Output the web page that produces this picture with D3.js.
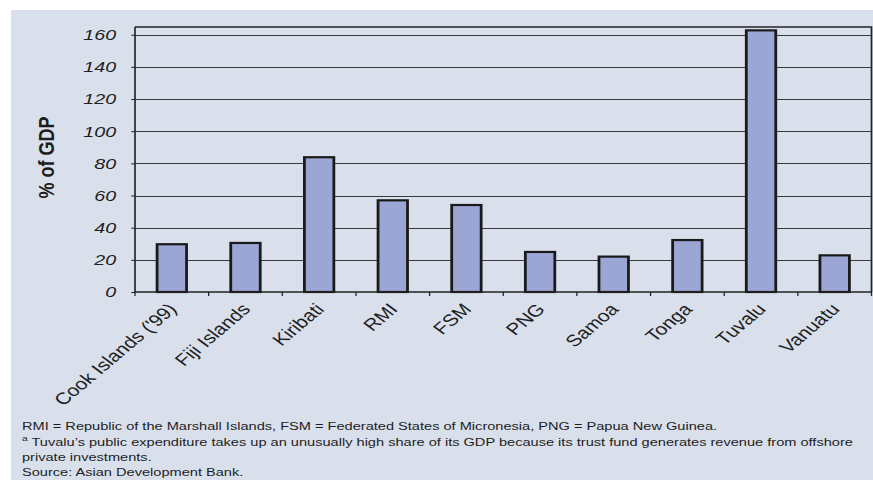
<!DOCTYPE html>
<html><head><meta charset="utf-8">
<script src="https://cdn.jsdelivr.net/npm/d3@7"></script>
<style>body{margin:0;background:#fff;} svg{display:block;}</style>
</head><body>
<script>
const categories = ["Cook Islands ('99)", "Fiji Islands", "Kiribati", "RMI", "FSM", "PNG", "Samoa", "Tonga", "Tuvalu", "Vanuatu"];
const values = [29.7, 30.5, 83.8, 57.0, 54.1, 24.9, 22.0, 32.3, 162.7, 22.8];
const yTicks = [0, 20, 40, 60, 80, 100, 120, 140, 160];
const yTitle = "% of GDP";
const notes = [
  [{t:"RMI = Republic of the Marshall Islands, FSM = Federated States of Micronesia, PNG = Papua New Guinea."}],
  [{t:"a", sup:true}, {t:" Tuvalu\u2019s public expenditure takes up an unusually high share of its GDP because its trust fund generates revenue from offshore"}],
  [{t:"private investments."}],
  [{t:"Source: Asian Development Bank."}]
];

(function () {
const SX = 1.27;            // horizontal stretch of the picture
const W = 873, H = 480;
const VW = W / SX;
const px = v => v / SX;     // final-pixel x -> internal x

const svg = d3.select("body").append("svg")
  .attr("width", W).attr("height", H)
  .attr("viewBox", `0 0 ${VW} ${H}`)
  .attr("preserveAspectRatio", "none");

svg.append("rect").attr("x", px(11)).attr("y", 10).attr("width", VW).attr("height", H)
  .attr("fill", "#d9e0ec");

const pLeft = px(135), pRight = px(871.5), pTop = 27, pBottom = 292;
const y = d3.scaleLinear().domain([0, 160]).range([pBottom, 34.7]);
const x = d3.scaleBand().domain(categories).range([pLeft, pRight]).paddingInner(0.6).paddingOuter(0.3);
const font = "'Liberation Sans', Arial, sans-serif";
const ink = "#1e1e1e";

// gridlines
svg.append("g").selectAll("line").data(yTicks.filter(d => d > 0)).join("line")
  .attr("x1", pLeft).attr("x2", pRight)
  .attr("y1", d => Math.round(y(d)) + 0.5).attr("y2", d => Math.round(y(d)) + 0.5)
  .attr("stroke", "#3a3a3a").attr("stroke-width", 1.1);

// frame top & right
svg.append("path")
  .attr("d", `M${pLeft},${pTop}H${pRight}V${pBottom}`)
  .attr("fill", "none").attr("stroke", "#222").attr("stroke-width", 1.3);

// y axis
const yAxis = d3.axisLeft(y).tickValues(yTicks).tickSize(3).tickPadding(px(15));
const gy = svg.append("g").attr("transform", `translate(${pLeft},0)`).call(yAxis);
gy.select(".domain").attr("stroke", "#222").attr("stroke-width", 1.3).attr("d", `M0,${pTop}V${pBottom}`);
gy.selectAll(".tick line").attr("stroke", "#222");
gy.selectAll(".tick text").attr("font-family", font).attr("font-style", "italic")
  .attr("font-size", 15.5).attr("fill", ink);

// bars
svg.append("g").selectAll("rect").data(values).join("rect")
  .attr("x", (d, i) => x(categories[i]))
  .attr("width", x.bandwidth())
  .attr("y", d => y(d))
  .attr("height", d => y(0) - y(d))
  .attr("fill", "#9ba6d4").attr("stroke", "#1a1a1a").attr("stroke-width", 2.2);

// x axis line and boundary ticks
const step = x.step();
svg.append("line").attr("x1", pLeft).attr("x2", pRight).attr("y1", pBottom).attr("y2", pBottom)
  .attr("stroke", "#222").attr("stroke-width", 1.5);
svg.append("g").selectAll("line").data(d3.range(categories.length + 1)).join("line")
  .attr("x1", i => pLeft + i * step).attr("x2", i => pLeft + i * step)
  .attr("y1", pBottom).attr("y2", pBottom + 4)
  .attr("stroke", "#222").attr("stroke-width", 1);

// category labels
svg.append("g").selectAll("text").data(categories).join("text")
  .attr("transform", d => `translate(${x(d) + x.bandwidth() / 2 + px(6)},${pBottom + 18}) rotate(-47)`)
  .attr("text-anchor", "end")
  .attr("font-family", font).attr("font-size", 16.5).attr("fill", ink)
  .text(d => d);

// y title
svg.append("text")
  .attr("transform", `translate(${px(53.5)},157.5) rotate(-90)`)
  .attr("text-anchor", "middle")
  .attr("font-family", font).attr("font-weight", "bold").attr("font-size", 18).attr("fill", ink)
  .text(yTitle);

// notes
const nt = svg.append("g");
notes.forEach((line, i) => {
  const t = nt.append("text").attr("x", px(22)).attr("y", 430.5 + i * 15.3)
    .attr("font-family", font).attr("font-size", 11.5).attr("fill", ink);
  line.forEach(s => {
    const ts = t.append("tspan").text(s.t);
    if (s.sup) ts.attr("font-size", 8).attr("baseline-shift", "4");
  });
});
})();
</script>
</body></html>
